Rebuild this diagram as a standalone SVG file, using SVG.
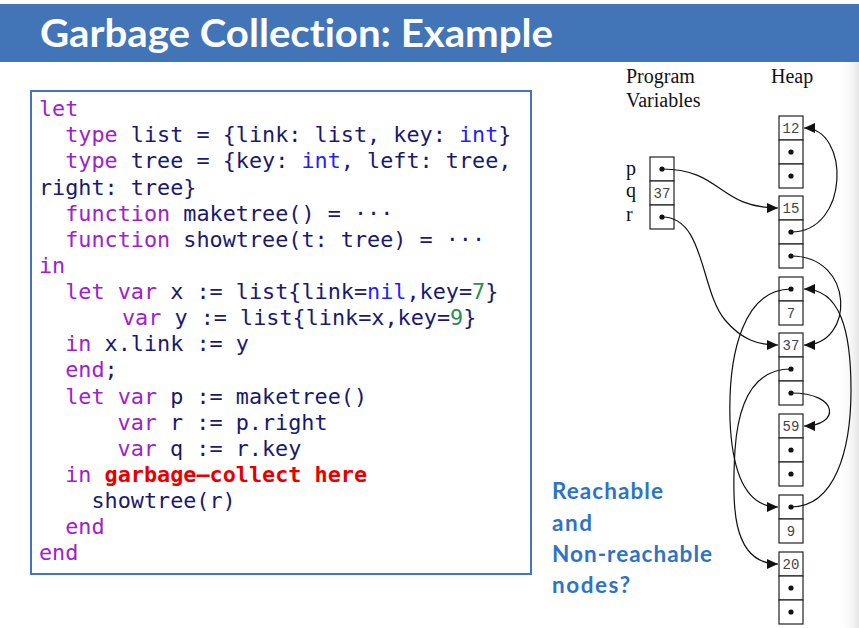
<svg xmlns="http://www.w3.org/2000/svg" width="859" height="628" viewBox="0 0 859 628">
<defs>
<style>
.code{font-family:"DejaVu Sans Mono","Liberation Mono",monospace;font-size:21.8px;fill:#191970;white-space:pre}
.k{fill:#a020d0}
.b{fill:#1f1fff}
.g{fill:#2e8b57}
.r{fill:#e60000;font-weight:bold}
.serif{font-family:"Liberation Serif","Times New Roman",serif;font-size:20px;fill:#111}
.cell{fill:#fff;stroke:#222;stroke-width:1.2}
.val{font-family:"Liberation Mono","DejaVu Sans Mono",monospace;font-size:14px;fill:#444;text-anchor:middle}
.dot{fill:#111}
.conn{fill:none;stroke:#111;stroke-width:1.2;marker-end:url(#ah)}
.q{font-family:Lato,"Open Sans",sans-serif;font-weight:bold;font-size:22.5px;fill:#2f73c2;font-variant-ligatures:none}
</style>
<marker id="ah" markerWidth="12" markerHeight="10" refX="11" refY="5" orient="auto" markerUnits="userSpaceOnUse">
<path d="M0,0 L11,5 L0,10 z" fill="#111"/>
</marker>
<linearGradient id="edge" x1="0" y1="0" x2="1" y2="0">
<stop offset="0" stop-color="#ffffff" stop-opacity="0"/>
<stop offset="1" stop-color="#e6e6e6"/>
</linearGradient>
</defs>
<rect x="0" y="0" width="859" height="628" fill="#fff"/>
<rect x="838" y="62" width="21" height="566" fill="url(#edge)"/>

<g id="title">
<rect x="0" y="4" width="859" height="58" fill="#4175b8"/>
<text x="40" y="47" font-family="Lato,'Open Sans',sans-serif" font-weight="bold" font-size="39" fill="#fff" style="font-variant-ligatures:none" textLength="513" lengthAdjust="spacingAndGlyphs">Garbage Collection: Example</text>
</g>

<g id="code">
<rect x="31" y="91" width="500" height="483" fill="#fff" stroke="#4472c4" stroke-width="2"/>
<text class="code" xml:space="preserve" x="39" y="116"><tspan class="k">let</tspan></text>
<text class="code" xml:space="preserve" x="65.2" y="142"><tspan class="k">type</tspan> list = {link: list, key: <tspan class="b">int</tspan>}</text>
<text class="code" xml:space="preserve" x="65.2" y="168"><tspan class="k">type</tspan> tree = {key: <tspan class="b">int</tspan>, left: tree,</text>
<text class="code" xml:space="preserve" x="39" y="195">right: tree}</text>
<text class="code" xml:space="preserve" x="65.2" y="221"><tspan class="k">function</tspan> maketree() = ···</text>
<text class="code" xml:space="preserve" x="65.2" y="247"><tspan class="k">function</tspan> showtree(t: tree) = ···</text>
<text class="code" xml:space="preserve" x="39" y="273"><tspan class="k">in</tspan></text>
<text class="code" xml:space="preserve" x="65.2" y="299"><tspan class="k">let</tspan> <tspan class="k">var</tspan> x := list{link=<tspan class="b">nil</tspan>,key=<tspan class="g">7</tspan>}</text>
<text class="code" xml:space="preserve" x="122" y="325"><tspan class="k">var</tspan> y := list{link=x,key=<tspan class="g">9</tspan>}</text>
<text class="code" xml:space="preserve" x="65.2" y="351"><tspan class="k">in</tspan> x.link := y</text>
<text class="code" xml:space="preserve" x="65.2" y="377"><tspan class="k">end</tspan>;</text>
<text class="code" xml:space="preserve" x="65.2" y="404"><tspan class="k">let</tspan> <tspan class="k">var</tspan> p := maketree()</text>
<text class="code" xml:space="preserve" x="117.6" y="430"><tspan class="k">var</tspan> r := p.right</text>
<text class="code" xml:space="preserve" x="117.6" y="456"><tspan class="k">var</tspan> q := r.key</text>
<text class="code" xml:space="preserve" x="65.2" y="482"><tspan class="k">in</tspan> <tspan class="r">garbage–collect here</tspan></text>
<text class="code" xml:space="preserve" x="91.4" y="508">showtree(r)</text>
<text class="code" xml:space="preserve" x="65.2" y="534"><tspan class="k">end</tspan></text>
<text class="code" xml:space="preserve" x="39" y="560"><tspan class="k">end</tspan></text>
</g>

<g id="labels">
<text class="serif" x="626" y="83">Program</text>
<text class="serif" x="626" y="107">Variables</text>
<text class="serif" x="771" y="83">Heap</text>
</g>

<g id="vars">
<text class="serif" x="626" y="175">p</text>
<text class="serif" x="626" y="197">q</text>
<text class="serif" x="626" y="221">r</text>
<rect class="cell" x="650" y="157" width="24" height="24"/>
<rect class="cell" x="650" y="181" width="24" height="24"/>
<rect class="cell" x="650" y="205" width="24" height="24"/>
<circle class="dot" cx="662" cy="169" r="2.6"/>
<text class="val" x="662" y="198">37</text>
<circle class="dot" cx="662" cy="217" r="2.6"/>
</g>

<g id="rec12">
<rect class="cell" x="779" y="116" width="24" height="24"/>
<rect class="cell" x="779" y="140" width="24" height="24"/>
<rect class="cell" x="779" y="164" width="24" height="24"/>
<text class="val" x="791" y="133">12</text>
<circle class="dot" cx="791" cy="152" r="2.6"/>
<circle class="dot" cx="791" cy="176" r="2.6"/>
</g>

<g id="rec15">
<rect class="cell" x="779" y="196" width="24" height="24"/>
<rect class="cell" x="779" y="220" width="24" height="24"/>
<rect class="cell" x="779" y="244" width="24" height="24"/>
<text class="val" x="791" y="213">15</text>
<circle class="dot" cx="791" cy="232" r="2.6"/>
<circle class="dot" cx="791" cy="256" r="2.6"/>
</g>

<g id="rec7">
<rect class="cell" x="779" y="277" width="24" height="24"/>
<rect class="cell" x="779" y="301" width="24" height="24"/>
<circle class="dot" cx="791" cy="289" r="2.6"/>
<text class="val" x="791" y="318">7</text>
</g>

<g id="rec37">
<rect class="cell" x="779" y="333" width="24" height="24"/>
<rect class="cell" x="779" y="357" width="24" height="24"/>
<rect class="cell" x="779" y="381" width="24" height="24"/>
<text class="val" x="791" y="350">37</text>
<circle class="dot" cx="791" cy="369" r="2.6"/>
<circle class="dot" cx="791" cy="393" r="2.6"/>
</g>

<g id="rec59">
<rect class="cell" x="779" y="414" width="24" height="24"/>
<rect class="cell" x="779" y="438" width="24" height="24"/>
<rect class="cell" x="779" y="462" width="24" height="24"/>
<text class="val" x="791" y="431">59</text>
<circle class="dot" cx="791" cy="450" r="2.6"/>
<circle class="dot" cx="791" cy="474" r="2.6"/>
</g>

<g id="rec9">
<rect class="cell" x="779" y="495" width="24" height="24"/>
<rect class="cell" x="779" y="519" width="24" height="24"/>
<circle class="dot" cx="791" cy="507" r="2.6"/>
<text class="val" x="791" y="536">9</text>
</g>

<g id="rec20">
<rect class="cell" x="779" y="552" width="24" height="24"/>
<rect class="cell" x="779" y="576" width="24" height="24"/>
<rect class="cell" x="779" y="600" width="24" height="24"/>
<text class="val" x="791" y="569">20</text>
<circle class="dot" cx="791" cy="588" r="2.6"/>
<circle class="dot" cx="791" cy="612" r="2.6"/>
</g>

<g id="connectors">
<path class="conn" d="M662,169 C722,169 718,208 778,208"/>
<path class="conn" d="M791,232 C850,232 850,128 804,128"/>
<path class="conn" d="M662,217 C705,217 700,290 725,320 C742,340 758,345 778,345"/>
<path class="conn" d="M791,256 C855,256 855,345 804,345"/>
<path class="conn" d="M791,289 C745,289 728,350 730,420 C732,470 745,507 778,507"/>
<path class="conn" d="M791,369 C752,369 738,405 735,450 C732,500 730,564 778,564"/>
<path class="conn" d="M791,393 C840,393 840,426 804,426"/>
<path class="conn" d="M791,507 C835,507 851,450 851,390 C851,330 840,289 804,289"/>
</g>

<g id="question">
<text class="q" x="552" y="499" textLength="111">Reachable</text>
<text class="q" x="552" y="531" textLength="40">and</text>
<text class="q" x="552" y="562" textLength="160">Non-reachable</text>
<text class="q" x="552" y="593" textLength="78">nodes?</text>
</g>
</svg>
